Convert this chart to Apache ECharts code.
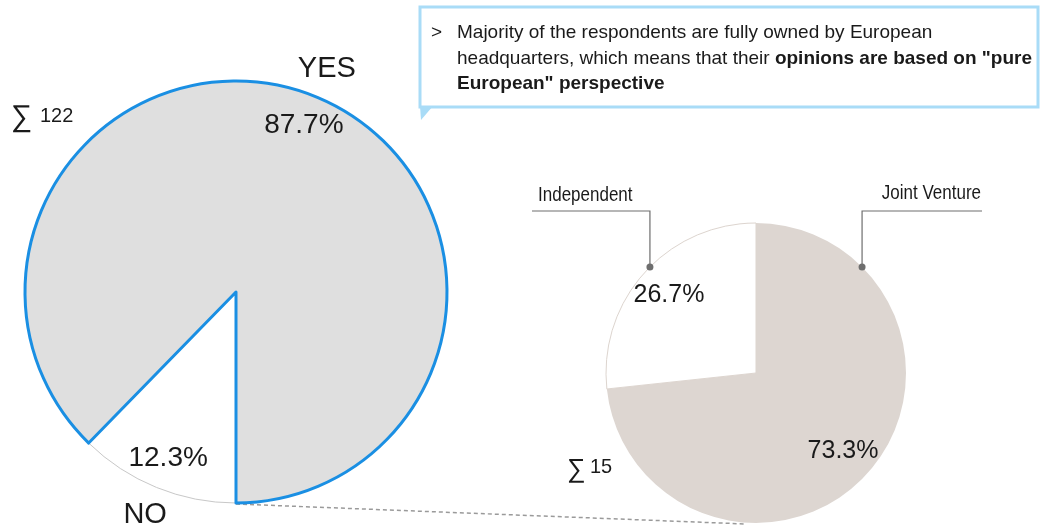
<!DOCTYPE html>
<html>
<head>
<meta charset="utf-8">
<script src="https://cdn.jsdelivr.net/npm/echarts@6/dist/echarts.min.js"></script>
<style>
html,body{margin:0;padding:0;background:#fff;}
#main{width:1041px;height:525px;}
</style>
</head>
<body>
<div id="main"></div>
<script>
// ---- data ----
const bigCategories = ['NO', 'YES'];
const bigValues = [12.3, 87.7];
const bigTotal = 122;
const smallCategories = ['Joint Venture', 'Independent'];
const smallValues = [73.3, 26.7];
const smallTotal = 15;
const calloutLines = [
  [{t: 'Majority of the respondents are fully owned by European', b: false}],
  [{t: 'headquarters, which means that their ', b: false}, {t: 'opinions are based on "pure', b: true}],
  [{t: 'European" perspective', b: true}]
];

// ---- layout / style ----
const FONT = '"Liberation Sans", Arial, sans-serif';
const BIG_C = [236, 292], BIG_R = 211;
const SMALL_C = [756, 373], SMALL_R = 150;
const BLUE = '#1a8fe3';
const GREY = '#dfdfdf';
const BEIGE = '#ddd6d1';
const TXT = '#1a1a1a';
const NARROW = 0.84;

const bigStyles = {
  'NO': {color: '#ffffff', borderColor: '#c8c8c8', borderWidth: 1},
  'YES': {color: GREY, borderColor: BLUE, borderWidth: 3}
};
const smallStyles = {
  'Joint Venture': {color: BEIGE, borderColor: BEIGE, borderWidth: 0},
  'Independent': {color: '#ffffff', borderColor: '#ddd5cf', borderWidth: 1}
};

function pieData(cats, vals, styles) {
  return cats.map((c, i) => ({name: c, value: vals[i], itemStyle: styles ? styles[c] : undefined}));
}
const transparent = {color: 'rgba(0,0,0,0)', borderWidth: 0};
function labelRing(center, radius, cats, vals, startAngle, fmt, size) {
  return {
    type: 'pie', center: center, radius: radius, startAngle: startAngle, clockwise: true,
    silent: true, avoidLabelOverlap: false, animation: false,
    itemStyle: transparent,
    emphasis: {disabled: true},
    label: {show: true, position: 'inside', formatter: fmt, color: TXT, fontSize: size, fontFamily: FONT},
    labelLine: {show: false},
    data: pieData(cats, vals)
  };
}
function txt(x, y, text, size, opts) {
  opts = opts || {};
  return {
    type: 'text', x: x, y: y, scaleX: opts.scaleX || NARROW, z: opts.z || 2,
    style: {text: text, fontSize: size, fontFamily: FONT, fontWeight: opts.bold ? 'bold' : 'normal',
      fill: TXT, align: opts.align || 'left', verticalAlign: 'middle', rich: opts.rich}
  };
}

// leader lines for small pie
const ang = 45 * Math.PI / 180;
const dotL = [SMALL_C[0] - SMALL_R * Math.sin(ang), SMALL_C[1] - SMALL_R * Math.cos(ang)];
const dotR = [SMALL_C[0] + SMALL_R * Math.sin(ang), SMALL_C[1] - SMALL_R * Math.cos(ang)];
const leaderY = 211;
const lineStyle = {stroke: '#6e6e6e', lineWidth: 1.2, fill: null};

const CALLOUT_SIZE = 19;
const graphics = [
  // callout box
  {type: 'rect', shape: {x: 420, y: 7, width: 618, height: 100}, style: {fill: '#fff', stroke: '#a9dcf7', lineWidth: 3}, z: 1},
  {type: 'polygon', shape: {points: [[420, 106], [433, 106], [421, 120]]}, style: {fill: '#a9dcf7'}, z: 1},
  txt(431, 32.5, '>', CALLOUT_SIZE, {scaleX: 1}),
  // dashed connector from big pie bottom to small pie bottom
  {type: 'line', shape: {x1: BIG_C[0], y1: BIG_C[1] + BIG_R + 1, x2: SMALL_C[0] - 10, y2: SMALL_C[1] + SMALL_R + 1},
   style: {stroke: '#9a9a9a', lineWidth: 1.5, lineDash: [4, 3]}, z: 0},
  // totals
  txt(11, 118, '\u2211', 30, {scaleX: 1}),
  txt(40, 116.5, String(bigTotal), 21, {scaleX: 0.95}),
  txt(567, 470, '\u2211', 26, {scaleX: 1}),
  txt(590, 467.5, String(smallTotal), 21, {scaleX: 0.95}),
  // leader lines
  {type: 'polyline', shape: {points: [dotL, [dotL[0], leaderY], [532, leaderY]]}, style: lineStyle, z: 3},
  {type: 'polyline', shape: {points: [dotR, [dotR[0], leaderY], [982, leaderY]]}, style: lineStyle, z: 3},
  {type: 'circle', shape: {cx: dotL[0], cy: dotL[1], r: 3.5}, style: {fill: '#6e6e6e'}, z: 3},
  {type: 'circle', shape: {cx: dotR[0], cy: dotR[1], r: 3.5}, style: {fill: '#6e6e6e'}, z: 3},
  txt(538, 195.5, smallCategories[1], 20, {scaleX: 0.85}),
  txt(981, 193, smallCategories[0], 20, {scaleX: 0.85, align: 'right'})
];
// callout text lines
const lineCenters = [32.5, 58.5, 83.5];
calloutLines.forEach((segs, i) => {
  const text = segs.map(s => '{' + (s.b ? 'b' : 'n') + '|' + s.t + '}').join('');
  graphics.push(txt(457, lineCenters[i], text, CALLOUT_SIZE, {scaleX: 1, rich: {
    n: {fontSize: CALLOUT_SIZE, fontFamily: FONT, fontWeight: 'normal', fill: TXT},
    b: {fontSize: CALLOUT_SIZE, fontFamily: FONT, fontWeight: 'bold', fill: TXT}
  }}));
});

const chart = echarts.init(document.getElementById('main'), null, {renderer: 'canvas'});
chart.setOption({
  animation: false,
  backgroundColor: '#ffffff',
  series: [
    {
      type: 'pie', center: BIG_C, radius: [0, BIG_R], startAngle: 270, clockwise: true,
      silent: true, emphasis: {disabled: true}, label: {show: false}, labelLine: {show: false},
      data: pieData(bigCategories, bigValues, bigStyles)
    },
    labelRing(BIG_C, [143, BIG_R], bigCategories, bigValues, 270, '{c}%', 28),
    labelRing(BIG_C, [216, 260], bigCategories, bigValues, 270, '{b}', 29),
    {
      type: 'pie', center: SMALL_C, radius: [0, SMALL_R], startAngle: 90, clockwise: true,
      silent: true, emphasis: {disabled: true}, label: {show: false}, labelLine: {show: false},
      data: pieData(smallCategories, smallValues, smallStyles)
    },
    labelRing(SMALL_C, [78, SMALL_R], smallCategories, smallValues, 90, '{c}%', 25)
  ],
  graphic: graphics
});
</script>
</body>
</html>
